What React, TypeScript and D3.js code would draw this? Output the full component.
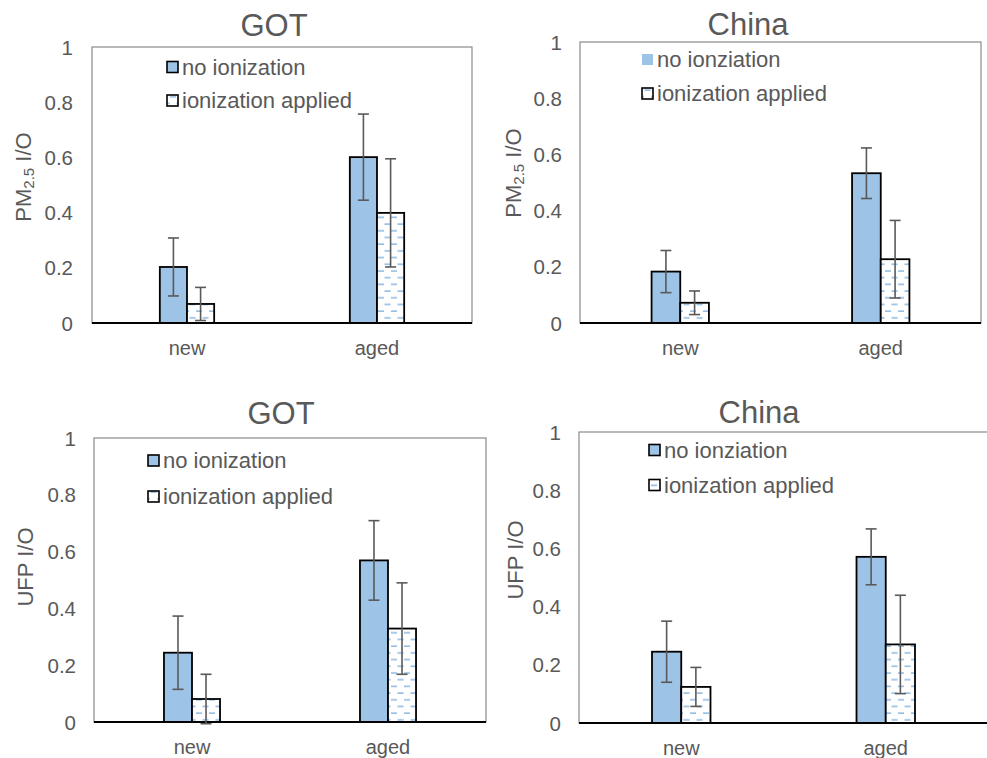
import React from "react";
import * as d3 from "d3";

// categories and tick values
const categories = ["new", "aged"];
const yTicks = [0, 0.2, 0.4, 0.6, 0.8, 1];
const tickLabels = ["0", "0.2", "0.4", "0.6", "0.8", "1"];

// PM2.5 I/O, GOT
const gotPmNo = [0.203, 0.601];
const gotPmNoErr = [0.105, 0.156];
const gotPmIon = [0.069, 0.399];
const gotPmIonErr = [0.06, 0.196];

// PM2.5 I/O, China
const chinaPmNo = [0.183, 0.533];
const chinaPmNoErr = [0.075, 0.09];
const chinaPmIon = [0.072, 0.227];
const chinaPmIonErr = [0.042, 0.138];

// UFP I/O, GOT
const gotUfpNo = [0.244, 0.569];
const gotUfpNoErr = [0.129, 0.14];
const gotUfpIon = [0.081, 0.329];
const gotUfpIonErr = [0.087, 0.161];

// UFP I/O, China
const chinaUfpNo = [0.245, 0.571];
const chinaUfpNoErr = [0.105, 0.096];
const chinaUfpIon = [0.124, 0.27];
const chinaUfpIonErr = [0.067, 0.169];

const FONT = "'Liberation Sans', Arial, sans-serif";
const TEXT = "#595959";
const BLUE = "#9DC3E6";

type PanelProps = {
  id: string;
  title: string;
  yLabel: "pm" | "ufp";
  noLabel: string;
  no: number[];
  noErr: number[];
  ion: number[];
  ionErr: number[];
  left: number;
  top: number;
  right: number;
  bottom: number;
  titleX: number;
  titleY: number;
  legX: number;
  legY: number[];
  legBorderFirst: boolean;
  yLabX: number;
  yLabY: number;
  tickX: number;
  xLabY: number;
};

const Panel = (p: PanelProps) => {
  const x = d3.scaleBand().domain(categories).range([p.left, p.right]);
  const y = d3.scaleLinear().domain([0, 1]).range([p.bottom, p.top]);
  const barW = x.bandwidth() * 0.143;
  const center = (c: string) => (x(c) as number) + x.bandwidth() / 2;
  const cap = 5.5;

  const errBar = (cx: number, v: number, e: number, key: string) => (
    <g key={key} stroke={TEXT} strokeWidth={1.6}>
      <line x1={cx} x2={cx} y1={y(v + e)} y2={y(v - e)} />
      <line x1={cx - cap} x2={cx + cap} y1={y(v + e)} y2={y(v + e)} />
      <line x1={cx - cap} x2={cx + cap} y1={y(v - e)} y2={y(v - e)} />
    </g>
  );

  return (
    <g>
      <text
        x={p.titleX}
        y={p.titleY}
        textAnchor="middle"
        dominantBaseline="central"
        fontSize={31}
        fill={TEXT}
      >
        {p.title}
      </text>
      <rect
        x={p.left}
        y={p.top}
        width={p.right - p.left}
        height={p.bottom - p.top}
        fill="white"
        stroke="#8a8a8a"
        strokeWidth={1.2}
      />
      {yTicks.map((t, i) => (
        <text
          key={t}
          x={p.tickX}
          y={y(t)}
          textAnchor="end"
          dominantBaseline="central"
          fontSize={20.5}
          fill={TEXT}
        >
          {tickLabels[i]}
        </text>
      ))}
      <text
        transform={`translate(${p.yLabX},${p.yLabY}) rotate(-90)`}
        textAnchor="middle"
        dominantBaseline="central"
        fontSize={22}
        fill={TEXT}
      >
        {p.yLabel === "pm" ? (
          <>
            PM
            <tspan fontSize={15} dy={5}>
              2.5
            </tspan>
            <tspan dy={-5}> I/O</tspan>
          </>
        ) : (
          "UFP I/O"
        )}
      </text>
      {categories.map((c) => (
        <text
          key={c}
          x={center(c)}
          y={p.xLabY}
          textAnchor="middle"
          dominantBaseline="central"
          fontSize={20}
          fill={TEXT}
        >
          {c}
        </text>
      ))}
      {categories.map((c, i) => (
        <g key={c}>
          <rect
            x={center(c) - barW}
            y={y(p.no[i])}
            width={barW}
            height={y(0) - y(p.no[i])}
            fill={BLUE}
            stroke="black"
            strokeWidth={1.8}
          />
          <rect
            x={center(c)}
            y={y(p.ion[i])}
            width={barW}
            height={y(0) - y(p.ion[i])}
            fill={`url(#hatch-${p.id})`}
            stroke="black"
            strokeWidth={1.8}
          />
        </g>
      ))}
      <line
        x1={p.left}
        x2={p.right}
        y1={p.bottom}
        y2={p.bottom}
        stroke="black"
        strokeWidth={2.2}
      />
      {categories.map((c, i) => errBar(center(c) - barW / 2, p.no[i], p.noErr[i], "n" + c))}
      {categories.map((c, i) => errBar(center(c) + barW / 2, p.ion[i], p.ionErr[i], "i" + c))}
      <g fontSize={22} fill={TEXT}>
        <rect
          x={p.legX}
          y={p.legY[0]}
          width={11}
          height={11}
          fill={BLUE}
          stroke={p.legBorderFirst ? "black" : "none"}
          strokeWidth={1.6}
        />
        <text x={p.legX + 15} y={p.legY[0] + 5.5} dominantBaseline="central">
          {p.noLabel}
        </text>
        <rect
          x={p.legX}
          y={p.legY[1]}
          width={11}
          height={11}
          fill={`url(#hatch-${p.id})`}
          stroke="black"
          strokeWidth={1.6}
        />
        <text x={p.legX + 15} y={p.legY[1] + 5.5} dominantBaseline="central">
          ionization applied
        </text>
      </g>
    </g>
  );
};

const panels: PanelProps[] = [
  {
    id: "a", title: "GOT", yLabel: "pm", noLabel: "no ionization",
    no: gotPmNo, noErr: gotPmNoErr, ion: gotPmIon, ionErr: gotPmIonErr,
    left: 92, top: 47, right: 472, bottom: 323,
    titleX: 274, titleY: 25, legX: 167, legY: [61.5, 95], legBorderFirst: true,
    yLabX: 23, yLabY: 177, tickX: 73, xLabY: 348,
  },
  {
    id: "b", title: "China", yLabel: "pm", noLabel: "no ionziation",
    no: chinaPmNo, noErr: chinaPmNoErr, ion: chinaPmIon, ionErr: chinaPmIonErr,
    left: 580, top: 42, right: 981, bottom: 323,
    titleX: 748, titleY: 24, legX: 642, legY: [54, 88], legBorderFirst: false,
    yLabX: 513, yLabY: 173, tickX: 562, xLabY: 348,
  },
  {
    id: "c", title: "GOT", yLabel: "ufp", noLabel: "no ionization",
    no: gotUfpNo, noErr: gotUfpNoErr, ion: gotUfpIon, ionErr: gotUfpIonErr,
    left: 94, top: 438, right: 486, bottom: 722,
    titleX: 281, titleY: 413, legX: 148, legY: [455, 491], legBorderFirst: true,
    yLabX: 25, yLabY: 567, tickX: 76, xLabY: 747,
  },
  {
    id: "d", title: "China", yLabel: "ufp", noLabel: "no ionziation",
    no: chinaUfpNo, noErr: chinaUfpNoErr, ion: chinaUfpIon, ionErr: chinaUfpIonErr,
    left: 579, top: 432, right: 988, bottom: 723,
    titleX: 759, titleY: 412, legX: 649, legY: [444.5, 479.5], legBorderFirst: true,
    yLabX: 515, yLabY: 560, tickX: 561, xLabY: 748,
  },
];

export default function App() {
  return (
    <div style={{ position: "absolute", left: 0, top: 0 }}>
      <svg width={987} height={758} fontFamily={FONT} style={{ display: "block", background: "white" }}>
        <defs>
          {panels.map((p) => (
            <pattern
              key={p.id}
              id={`hatch-${p.id}`}
              patternUnits="userSpaceOnUse"
              width={13}
              height={13.4}
            >
              <rect width={13} height={13.4} fill="white" />
              <g stroke="#8DB8E2" strokeWidth={1.5}>
                <line x1={1} x2={7} y1={3} y2={3} />
                <line x1={7.5} x2={13} y1={9.7} y2={9.7} />
                <line x1={0} x2={0.5} y1={9.7} y2={9.7} />
              </g>
            </pattern>
          ))}
        </defs>
        {panels.map((p) => (
          <Panel key={p.id} {...p} />
        ))}
      </svg>
    </div>
  );
}
